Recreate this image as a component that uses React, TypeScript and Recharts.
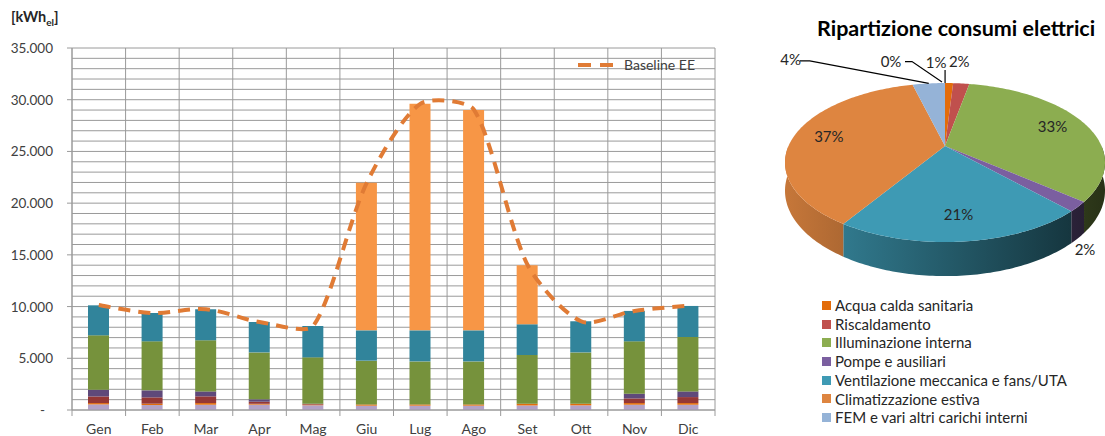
import { ComposedChart, Bar, Line, XAxis, YAxis, CartesianGrid, Legend, PieChart, Pie, Cell } from 'recharts';

// monthly electricity use by end use, kWh
const months = ['Gen', 'Feb', 'Mar', 'Apr', 'Mag', 'Giu', 'Lug', 'Ago', 'Set', 'Ott', 'Nov', 'Dic'];
const femAltri = [540, 480, 510, 520, 460, 420, 420, 420, 440, 450, 510, 510];
const acquaCalda = [130, 130, 160, 80, 60, 120, 120, 120, 170, 160, 160, 160];
const riscaldamento = [640, 610, 650, 200, 60, 0, 0, 0, 0, 0, 450, 580];
const pompe = [650, 680, 480, 230, 30, 0, 0, 0, 0, 0, 460, 550];
const illuminazione = [5260, 4740, 4940, 4540, 4480, 4230, 4160, 4160, 4710, 4960, 5060, 5260];
const ventilazione = [2900, 2740, 3000, 2940, 3030, 2930, 3000, 3000, 2970, 3010, 2940, 3000];
const climatizzazione = [0, 0, 0, 0, 0, 14260, 21900, 21300, 5700, 0, 0, 0];
const baseline = [10150, 9380, 9740, 8510, 8120, 21950, 29600, 29050, 14050, 8580, 9580, 10080];

const yTicks = [0, 5000, 10000, 15000, 20000, 25000, 30000, 35000];

// yearly split, percent
const pieNames = [
  'Acqua calda sanitaria',
  'Riscaldamento',
  'Illuminazione interna',
  'Pompe e ausiliari',
  'Ventilazione meccanica e fans/UTA',
  'Climatizzazione estiva',
  'FEM e vari altri carichi interni',
  '',
];
const pieShares = [1, 2, 33, 2, 21, 37, 4, 0];

const FONT = 'Lato, "Open Sans", sans-serif';
const TEXT = '#404040';
const GRID = '#9a9a9a';
const BASELINE_COLOR = '#e07b35';

const barColors = {
  fem: '#b3a2c7',
  acqua: '#e46c0a',
  risc: '#953735',
  pompe: '#5f497a',
  illum: '#76923c',
  vent: '#31849b',
  clima: '#f79646',
};
const pieColors = ['#e36c0a', '#c0504d', '#8cad50', '#7b5fa0', '#3e9ab4', '#de8540', '#95b3d7', '#95b3d7'];

const barData = months.map((month, i) => ({
  month,
  fem: femAltri[i],
  acqua: acquaCalda[i],
  risc: riscaldamento[i],
  pompe: pompe[i],
  illum: illuminazione[i],
  vent: ventilazione[i],
  clima: climatizzazione[i],
  baseline: baseline[i],
}));

const pieData = pieNames.map((name, i) => ({ name, share: pieShares[i] }));

const CHART_W = 730;
const CHART_H = 436;
const MARGIN = { top: 48, right: 15, bottom: 0, left: 12 };
const Y_AXIS_W = 60;
const PLOT_W = CHART_W - MARGIN.left - MARGIN.right - Y_AXIS_W;
const STEP = PLOT_W / months.length;

const thousands = (v: number) => String(v).replace(/\B(?=(\d{3})+(?!\d))/g, '.');

// spreadsheet-style smoothing: bezier handles along the neighbour chord,
// shortened when the adjacent segment is much longer (limits overshoot)
function smoothCurve(context: any) {
  let pts: [number, number][] = [];
  const dist = (a: number[], b: number[]) => Math.hypot(b[0] - a[0], b[1] - a[1]) || 1;
  return {
    areaStart() {},
    areaEnd() {},
    lineStart() {
      pts = [];
    },
    point(x: number, y: number) {
      pts.push([+x, +y]);
    },
    lineEnd() {
      if (!pts.length) return;
      context.moveTo(pts[0][0], pts[0][1]);
      for (let i = 0; i < pts.length - 1; i++) {
        const p0 = pts[Math.max(0, i - 1)];
        const p1 = pts[i];
        const p2 = pts[i + 1];
        const p3 = pts[Math.min(pts.length - 1, i + 2)];
        const d12 = dist(p1, p2);
        const f1 = Math.min(1, d12 / dist(p0, p1)) / 6;
        const f2 = Math.min(1, d12 / dist(p2, p3)) / 6;
        context.bezierCurveTo(
          p1[0] + (p2[0] - p0[0]) * f1,
          p1[1] + (p2[1] - p0[1]) * f1,
          p2[0] - (p3[0] - p1[0]) * f2,
          p2[1] - (p3[1] - p1[1]) * f2,
          p2[0],
          p2[1],
        );
      }
    },
  };
}

function YTick({ x, y, payload }: any) {
  const v = payload.value as number;
  return (
    <text x={v === 0 ? x - 8 : x} y={y} dy={5} textAnchor="end" fill={TEXT} fontSize={13.5} fontFamily={FONT}>
      {v === 0 ? '-' : thousands(v)}
    </text>
  );
}

function XTick({ x, y, payload, index }: any) {
  const top = y - 8;
  return (
    <g>
      <line x1={x - STEP / 2} x2={x - STEP / 2} y1={top} y2={top + 6} stroke={GRID} />
      {index === months.length - 1 && <line x1={x + STEP / 2} x2={x + STEP / 2} y1={top} y2={top + 6} stroke={GRID} />}
      <text x={x} y={y + 16} textAnchor="middle" fill={TEXT} fontSize={14} fontFamily={FONT}>
        {payload.value}
      </text>
    </g>
  );
}

function BaselineLegend() {
  return (
    <div style={{ display: 'flex', alignItems: 'center', fontFamily: FONT, fontSize: 14, color: TEXT }}>
      <svg width={44} height={8}>
        <line x1={2} y1={4} x2={42} y2={4} stroke={BASELINE_COLOR} strokeWidth={4} strokeDasharray="13 9" />
      </svg>
      <span style={{ marginLeft: 4 }}>Baseline EE</span>
    </div>
  );
}

// --- tilted pie helpers: a simple perspective projection of the disc ---
const TILT = 0.486;
const PERSP = 0.208;
const DEPTH = 27;

function project(cx: number, cy: number, r: number, frac: number, deg: number) {
  const a = (deg * Math.PI) / 180;
  const u = frac * Math.cos(a);
  const v = frac * Math.sin(a);
  const s = 1 / (1 + PERSP * v);
  return { x: cx + r * u * s, y: cy - r * TILT * v * s, s };
}

function rimPoints(cx: number, cy: number, r: number, from: number, to: number) {
  const n = Math.max(2, Math.ceil(Math.abs(to - from)) + 1);
  return Array.from({ length: n }, (_, i) => project(cx, cy, r, 1, from + ((to - from) * i) / (n - 1)));
}

function shade(hex: string, f: number) {
  const n = parseInt(hex.slice(1), 16);
  const c = [(n >> 16) & 255, (n >> 8) & 255, n & 255].map((ch) => Math.round(ch * f));
  return `rgb(${c[0]},${c[1]},${c[2]})`;
}

function TopFace(props: any) {
  const { cx, cy, outerRadius, startAngle, endAngle, fill } = props;
  const rim = rimPoints(cx, cy, outerRadius, startAngle, endAngle);
  const d = `M${cx},${cy}` + rim.map((p) => `L${p.x},${p.y}`).join('') + 'Z';
  return <path d={d} fill={fill} />;
}

function SideWall(props: any) {
  const { cx, cy, outerRadius, startAngle, endAngle, fill } = props;
  const lo0 = Math.min(startAngle, endAngle);
  const hi0 = Math.max(startAngle, endAngle);
  const parts: number[][] = [];
  for (const k of [-360, 0, 360]) {
    const lo = Math.max(lo0, -180 + k);
    const hi = Math.min(hi0, k);
    if (hi > lo) parts.push([lo, hi]);
  }
  const id = `wall-${String(fill).replace('#', '')}`;
  return (
    <g>
      <defs>
        <linearGradient id={id} gradientUnits="userSpaceOnUse" x1={cx - outerRadius * 1.05} x2={cx + outerRadius * 1.05} y1={0} y2={0}>
          <stop offset="0" stopColor={shade(fill, 0.9)} />
          <stop offset="1" stopColor={shade(fill, 0.28)} />
        </linearGradient>
      </defs>
      {parts.map(([lo, hi]) => {
        const top = rimPoints(cx, cy, outerRadius, lo, hi);
        const bottom = top.slice().reverse();
        const d =
          'M' +
          top.map((p) => `${p.x},${p.y}`).join('L') +
          'L' +
          bottom.map((p) => `${p.x},${p.y + DEPTH * p.s}`).join('L') +
          'Z';
        return <path key={lo} d={d} fill={`url(#${id})`} />;
      })}
    </g>
  );
}

// small slices get their label outside, offset from the rim point
const CALLOUTS: Record<number, { dx: number; dy: number; path?: number[][] }> = {
  0: { dx: -13, dy: -20, path: [[-4, 0], [-4, -13]] },
  1: { dx: -2, dy: -21 },
  3: { dx: 7, dy: 43 },
  6: { dx: -138, dy: -23, path: [[0, 0], [-119, -22.5], [-129, -22.5]] },
  7: { dx: -54, dy: -21.5, path: [[-3, -1], [-33, -21.5], [-40, -21.5]] },
};

function renderPieLabel(props: any) {
  const { cx, cy, midAngle, outerRadius, index, value } = props;
  const text = `${value}%`;
  const callout = CALLOUTS[index];
  if (!callout) {
    const p = project(cx, cy, outerRadius, 0.77, midAngle);
    return (
      <text x={p.x} y={p.y} dy={5} textAnchor="middle" fill="#262626" fontSize={15} fontFamily={FONT}>
        {text}
      </text>
    );
  }
  const rim = project(cx, cy, outerRadius, 1, midAngle);
  return (
    <g>
      {callout.path && (
        <polyline
          points={callout.path.map(([dx, dy]) => `${rim.x + dx},${rim.y + dy}`).join(' ')}
          fill="none"
          stroke="#000"
          strokeWidth={1.2}
        />
      )}
      <text x={rim.x + callout.dx} y={rim.y + callout.dy} dy={5} textAnchor="middle" fill="#262626" fontSize={15} fontFamily={FONT}>
        {text}
      </text>
    </g>
  );
}

function PieLegend() {
  return (
    <div style={{ fontFamily: FONT, fontSize: 15, color: '#262626', lineHeight: '18.7px' }}>
      {pieNames.slice(0, 7).map((name, i) => (
        <div key={name} style={{ display: 'flex', alignItems: 'center', whiteSpace: 'nowrap' }}>
          <span style={{ width: 9, height: 9, background: pieColors[i], marginRight: 4, flexShrink: 0 }} />
          {name}
        </div>
      ))}
    </div>
  );
}

export default function App() {
  return (
    <div style={{ position: 'fixed', left: 0, top: 0, width: 1105, height: 436, background: '#fff', fontFamily: FONT }}>
      <div style={{ position: 'absolute', left: 11, top: 8, fontSize: 14.5, fontWeight: 700, color: '#262626' }}>
        [kWh<sub style={{ fontSize: 10 }}>el</sub>]
      </div>

      <div style={{ position: 'absolute', left: 0, top: 0 }}>
        <ComposedChart width={CHART_W} height={CHART_H} data={barData} margin={MARGIN} barCategoryGap={0}>
          <CartesianGrid
            stroke={GRID}
            horizontalCoordinatesGenerator={({ offset }: any) =>
              Array.from({ length: 36 }, (_, i) => offset.top + (offset.height * i) / 35)
            }
            verticalCoordinatesGenerator={({ offset }: any) =>
              Array.from({ length: months.length + 1 }, (_, i) => offset.left + (offset.width * i) / months.length)
            }
          />
          <XAxis
            dataKey="month"
            height={26}
            interval={0}
            tickLine={false}
            tickSize={6}
            tickMargin={2}
            axisLine={{ stroke: GRID }}
            tick={<XTick />}
          />
          <YAxis
            type="number"
            domain={[0, 35000]}
            ticks={yTicks}
            interval={0}
            width={Y_AXIS_W}
            tickSize={5}
            tickMargin={14}
            axisLine={{ stroke: GRID }}
            tickLine={{ stroke: GRID }}
            tick={<YTick />}
          />
          <Bar dataKey="fem" stackId="m" fill={barColors.fem} barSize={21} isAnimationActive={false} />
          <Bar dataKey="acqua" stackId="m" fill={barColors.acqua} barSize={21} isAnimationActive={false} />
          <Bar dataKey="risc" stackId="m" fill={barColors.risc} barSize={21} isAnimationActive={false} />
          <Bar dataKey="pompe" stackId="m" fill={barColors.pompe} barSize={21} isAnimationActive={false} />
          <Bar dataKey="illum" stackId="m" fill={barColors.illum} barSize={21} isAnimationActive={false} />
          <Bar dataKey="vent" stackId="m" fill={barColors.vent} barSize={21} isAnimationActive={false} />
          <Bar dataKey="clima" stackId="m" fill={barColors.clima} barSize={21} isAnimationActive={false} />
          <Line
            type={smoothCurve as any}
            dataKey="baseline"
            name="Baseline EE"
            stroke={BASELINE_COLOR}
            strokeWidth={4}
            strokeDasharray="12 8"
            dot={false}
            isAnimationActive={false}
          />
          <Legend
            layout="horizontal"
            verticalAlign="middle"
            align="center"
            wrapperStyle={{ top: 56, left: 576, width: 140, height: 20 }}
            content={() => <BaselineLegend />}
          />
        </ComposedChart>
      </div>

      <div style={{ position: 'absolute', left: 817, top: 15, fontSize: 21.5, fontWeight: 700, color: '#000', whiteSpace: 'nowrap', lineHeight: '26px' }}>
        Ripartizione consumi elettrici
      </div>

      <div style={{ position: 'absolute', left: 770, top: 0 }}>
        <PieChart width={335} height={436} margin={{ top: 0, right: 0, bottom: 0, left: 0 }}>
          <Pie
            data={pieData}
            dataKey="share"
            cx={175}
            cy={146}
            outerRadius={156.5}
            startAngle={90}
            endAngle={-270}
            stroke="none"
            shape={SideWall}
            label={false}
            labelLine={false}
            isAnimationActive={false}
            legendType="none"
          >
            {pieData.map((d, i) => (
              <Cell key={`w${i}`} fill={pieColors[i]} />
            ))}
          </Pie>
          <Pie
            data={pieData}
            dataKey="share"
            cx={175}
            cy={146}
            outerRadius={156.5}
            startAngle={90}
            endAngle={-270}
            stroke="none"
            shape={TopFace}
            label={renderPieLabel}
            labelLine={false}
            isAnimationActive={false}
          >
            {pieData.map((d, i) => (
              <Cell key={`t${i}`} fill={pieColors[i]} />
            ))}
          </Pie>
          <Legend
            layout="vertical"
            verticalAlign="middle"
            align="center"
            wrapperStyle={{ top: 296, left: 52, width: 283, height: 140 }}
            content={() => <PieLegend />}
          />
        </PieChart>
      </div>
    </div>
  );
}
